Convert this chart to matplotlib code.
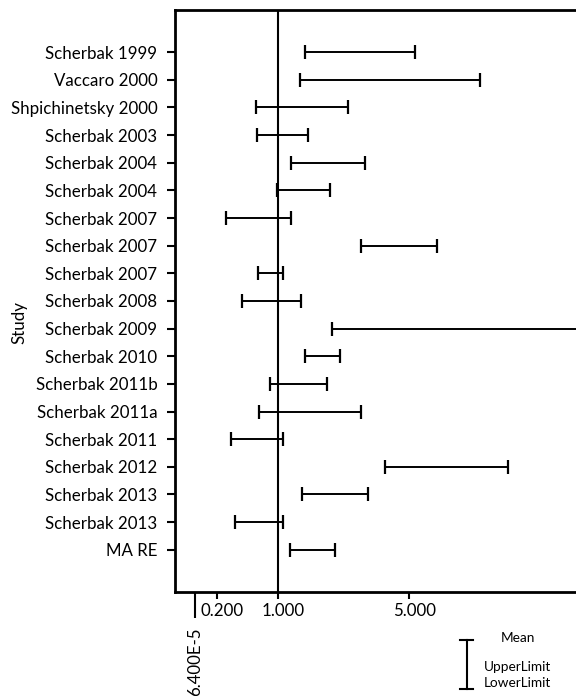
import numpy as np
import matplotlib
matplotlib.use('Agg')
import matplotlib.pyplot as plt
import matplotlib.transforms as mtransforms
from matplotlib.lines import Line2D
from matplotlib.ticker import FixedLocator, FixedFormatter

studies = ['Scherbak 1999', 'Vaccaro 2000', 'Shpichinetsky 2000', 'Scherbak 2003',
           'Scherbak 2004', 'Scherbak 2004', 'Scherbak 2007', 'Scherbak 2007',
           'Scherbak 2007', 'Scherbak 2008', 'Scherbak 2009', 'Scherbak 2010',
           'Scherbak 2011b', 'Scherbak 2011a', 'Scherbak 2011', 'Scherbak 2012',
           'Scherbak 2013', 'Scherbak 2013', 'MA RE']
lower = [1.51, 1.41, 0.67, 0.68, 1.23, 0.98, 0.30, 3.00, 0.69, 0.48,
         2.15, 1.51, 0.88, 0.71, 0.35, 3.90, 1.45, 0.40, 1.22]
upper = [5.27, 9.83, 2.60, 1.57, 3.15, 2.08, 1.23, 6.55, 1.09, 1.42,
         40.0, 2.36, 2.01, 3.01, 1.09, 12.69, 3.24, 1.09, 2.21]

xticks = [0.2, 1.0, 5.0]
xticklabels = ['0.200', '1.000', '5.000']
xmin_tick = 6.4e-5

plt.rcParams['font.family'] = ['Lato', 'DejaVu Sans']

fig = plt.figure(figsize=(5.76, 6.96), dpi=100)
ax = fig.add_axes([0.3033, 0.1494, 0.74, 0.836])
ax.set_xscale('function', functions=(lambda x: np.log1p(x), lambda y: np.expm1(y)))

lower = np.array(lower)
upper = np.array(upper)
pos = np.arange(len(studies))
mid = (lower + upper) / 2
ax.errorbar(mid, pos, xerr=[mid - lower, upper - mid], fmt='none', ecolor='black',
            elinewidth=1.4, capsize=4.7, capthick=1.6)
ax.axvline(1.0, color='black', lw=1.5, zorder=0)

ax.set_xlim(-0.1557, 28.75)
ax.set_ylim(len(studies) - 1 + 1.53, -1.52)

ax.set_yticks(pos)
ax.set_yticklabels(studies)
ax.xaxis.set_major_locator(FixedLocator(xticks))
ax.xaxis.set_major_formatter(FixedFormatter(xticklabels))
ax.xaxis.set_minor_locator(FixedLocator([xmin_tick]))
ax.xaxis.set_minor_formatter(FixedFormatter(['6.400E-5']))

ax.tick_params(axis='y', length=5.5, width=1.5, labelsize=12.2, pad=7)
ax.tick_params(axis='x', which='major', length=5, width=1.5, labelsize=12.2, pad=3)
ax.tick_params(axis='x', which='minor', length=18.7, width=1.5, labelsize=12.2,
               labelrotation=90, pad=7)

for lab in ax.get_xticklabels():
    lab.set_transform(lab.get_transform() + mtransforms.ScaledTranslation(5 / 100, 0, fig.dpi_scale_trans))

for s in ['left', 'bottom', 'top']:
    ax.spines[s].set_linewidth(2)
ax.spines['right'].set_visible(False)

ax.set_ylabel('Study', fontsize=12.2)
ax.yaxis.set_label_coords(-0.345, 0.464)

# legend sketch at the bottom right
fx = 466.7 / 576
y0, y1 = 1 - 640 / 696, 1 - 689 / 696
fig.add_artist(Line2D([fx, fx], [y0, y1], color='black', lw=1.5, transform=fig.transFigure))
for yy in (y0, y1):
    fig.add_artist(Line2D([fx - 6.5 / 576, fx + 6.5 / 576], [yy, yy], color='black', lw=1.5,
                          transform=fig.transFigure))
fig.text(518 / 576, 1 - 638 / 696, 'Mean', fontsize=9.8, ha='center', va='center')
fig.text(484 / 576, 1 - 667 / 696, 'UpperLimit', fontsize=9.8, ha='left', va='center')
fig.text(484 / 576, 1 - 683 / 696, 'LowerLimit', fontsize=9.8, ha='left', va='center')

fig.savefig('out.png', dpi=100)
